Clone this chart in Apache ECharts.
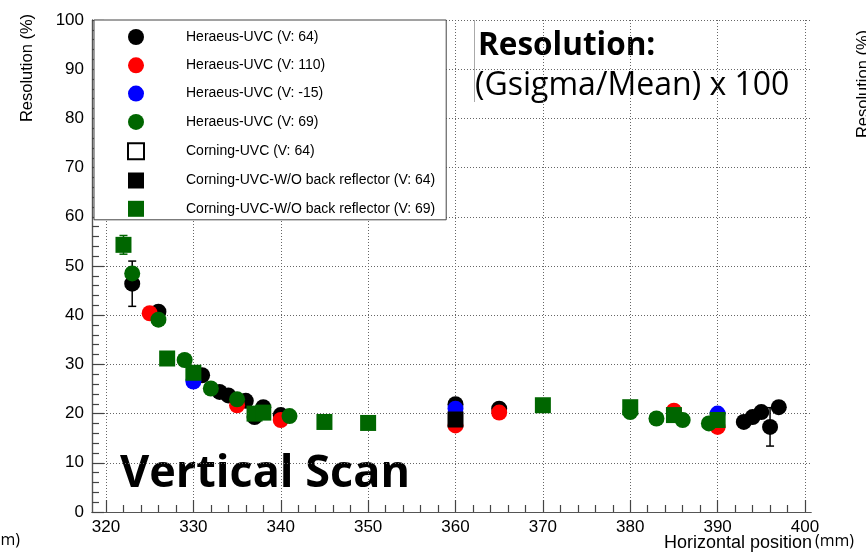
<!DOCTYPE html>
<html>
<head>
<meta charset="utf-8">
<script src="https://cdn.jsdelivr.net/npm/echarts@6/dist/echarts.min.js"></script>
<style>
html, body { margin: 0; padding: 0; background: #fff; }
#chart { width: 866px; height: 554px; }
</style>
</head>
<body>
<div id="chart"></div>
<script>
// points are [horizontal position (mm), resolution (%), error]
const heraeusV64 = [[323, 46.4, 4.6], [326, 40.7, 0], [331, 27.8, 0], [333, 24.4, 0], [334, 23.7, 0],
  [336, 22.6, 0], [337, 19.3, 0], [338, 21.3, 0], [340, 19.7, 0], [360, 21.9, 0], [365, 21.0, 0],
  [393, 18.3, 0], [394, 19.3, 0], [395, 20.3, 0], [396, 17.3, 3.9], [397, 21.3, 0]];
const heraeusV110 = [[325, 40.4, 0], [335, 21.7, 0], [340, 18.7, 0], [360, 17.6, 0], [365, 20.2, 0],
  [385, 20.6, 0], [390, 17.3, 0]];
const heraeusVm15 = [[330, 26.5, 0], [360, 21.0, 0], [390, 20.0, 0]];
const heraeusV69 = [[323, 48.5, 0], [326, 39.1, 0], [329, 30.9, 0], [332, 25.1, 0], [335, 22.9, 0],
  [341, 19.5, 0], [380, 20.3, 0], [383, 19.0, 0], [386, 18.7, 0], [389, 18.0, 0]];
const corningV64 = [];
const corningNoRefV64 = [[360, 18.8, 0]];
const corningNoRefV69 = [[322, 54.3, 1.9], [327, 31.2, 0], [330, 28.3, 0], [337, 20.0, 0], [338, 20.2, 0],
  [345, 18.3, 0], [350, 18.1, 0], [370, 21.7, 0], [380, 21.3, 0], [385, 19.7, 0], [390, 18.7, 0]];

const xMin = 320, xMax = 400, xStep = 10;
const yMin = 0, yMax = 100, yStep = 10;

const FONT = 'Liberation Sans, Arial, sans-serif';
const SLIDE_FONT = 'Open Sans, Noto Sans, sans-serif';
const GREEN = '#006600';

const chart = echarts.init(document.getElementById('chart'), null, { renderer: 'canvas' });

const groups = [
  { name: 'Heraeus-UVC (V: 64)', data: heraeusV64, symbol: 'circle', color: '#000000' },
  { name: 'Heraeus-UVC (V: 110)', data: heraeusV110, symbol: 'circle', color: '#ff0000' },
  { name: 'Heraeus-UVC (V: -15)', data: heraeusVm15, symbol: 'circle', color: '#0000ff' },
  { name: 'Heraeus-UVC (V: 69)', data: heraeusV69, symbol: 'circle', color: GREEN },
  { name: 'Corning-UVC (V: 64)', data: corningV64, symbol: 'rect', color: '#ffffff', border: '#000000' },
  { name: 'Corning-UVC-W/O back reflector (V: 64)', data: corningNoRefV64, symbol: 'rect', color: '#000000' },
  { name: 'Corning-UVC-W/O back reflector (V: 69)', data: corningNoRefV69, symbol: 'rect', color: GREEN }
];

function errorSeries(g) {
  return {
    type: 'custom', xAxisIndex: 2, yAxisIndex: 2, silent: true,
    data: g.data.filter(d => d[2] > 0).map(d => [d[0], d[1] - d[2], d[1] + d[2]]),
    encode: { x: 0, y: [1, 2] },
    renderItem(params, api) {
      const lo = api.coord([api.value(0), api.value(1)]);
      const hi = api.coord([api.value(0), api.value(2)]);
      const st = { stroke: g.color === '#ffffff' ? '#000' : g.color, lineWidth: 1.5 };
      return { type: 'group', children: [
        { type: 'line', shape: { x1: lo[0], y1: lo[1], x2: hi[0], y2: hi[1] }, style: st },
        { type: 'line', shape: { x1: lo[0] - 4, y1: lo[1], x2: lo[0] + 4, y2: lo[1] }, style: st },
        { type: 'line', shape: { x1: hi[0] - 4, y1: hi[1], x2: hi[0] + 4, y2: hi[1] }, style: st }
      ] };
    }
  };
}

const series = [];
groups.forEach(g => {
  series.push(errorSeries(g));
  series.push({
    name: g.name, type: 'scatter', xAxisIndex: 2, yAxisIndex: 2,
    symbol: g.symbol, symbolSize: 16,
    data: g.data.map(d => [d[0], d[1]]),
    itemStyle: { color: g.color, opacity: 1, borderColor: g.border || g.color, borderWidth: g.border ? 1.5 : 0 },
    emphasis: { disabled: true }
  });
});

const frameLine = { show: true, lineStyle: { color: '#555', width: 1.2 } };
const dotted = { show: true, lineStyle: { color: '#666', width: 1, type: [1, 2] } };

chart.setOption({
  animation: false,
  backgroundColor: '#fff',
  grid: [
    { left: 92, right: 55, top: 20, bottom: 42 },   // frame
    { left: 106, right: 61, top: 20, bottom: 42 }   // data
  ],
  xAxis: [
    { gridIndex: 0, type: 'value', min: 0, max: 1, position: 'bottom', axisLine: frameLine,
      axisTick: { show: false }, axisLabel: { show: false }, splitLine: { show: false } },
    { gridIndex: 0, type: 'value', min: 0, max: 1, position: 'top', axisLine: frameLine,
      axisTick: { show: false }, axisLabel: { show: false }, splitLine: { show: false } },
    { gridIndex: 1, type: 'value', min: xMin, max: xMax, interval: xStep, position: 'bottom',
      axisLine: { show: false },
      axisTick: { show: true, inside: true, length: 12, lineStyle: { color: '#444', width: 1.2 } },
      minorTick: { show: true, splitNumber: 5, length: 7, lineStyle: { color: '#444', width: 1.2 } },
      axisLabel: { color: '#000', fontFamily: FONT, fontSize: 17, margin: 7 },
      splitLine: dotted }
  ],
  yAxis: [
    { gridIndex: 0, type: 'value', min: yMin, max: yMax, interval: yStep, position: 'left',
      axisLine: frameLine,
      axisTick: { show: true, inside: true, length: 12, lineStyle: { color: '#444', width: 1.2 } },
      minorTick: { show: true, splitNumber: 5, length: 7, lineStyle: { color: '#444', width: 1.2 } },
      axisLabel: { color: '#000', fontFamily: FONT, fontSize: 17, margin: 8 },
      splitLine: dotted },
    { gridIndex: 0, type: 'value', min: yMin, max: yMax, position: 'right', axisLine: frameLine,
      axisTick: { show: false }, axisLabel: { show: false }, splitLine: { show: false } },
    { gridIndex: 1, type: 'value', min: yMin, max: yMax, show: false }
  ],
  legend: {
    orient: 'vertical', left: 94, top: 20,
    padding: [9, 11, 3, 33],
    itemWidth: 16, itemHeight: 16, itemGap: 12.3,
    backgroundColor: '#fff', borderColor: '#444', borderWidth: 1,
    selectedMode: false,
    data: groups.map(g => g.name),
    textStyle: { color: '#000', fontFamily: FONT, fontSize: 14, lineHeight: 16, padding: [0, 0, 0, 37] }
  },
  graphic: [
    { type: 'text', x: 27, y: 68, rotation: Math.PI / 2,
      style: { text: 'Resolution (%)', font: '16.5px ' + FONT, fill: '#000', align: 'center', verticalAlign: 'middle' } },
    { type: 'text', x: 812, y: 543,
      style: { text: 'Horizontal position', font: '18px ' + FONT, fill: '#000', align: 'right', verticalAlign: 'middle' } },
    { type: 'text', x: 815, y: 541,
      style: { text: '(mm)', font: '16px ' + SLIDE_FONT, fill: '#000', align: 'left', verticalAlign: 'middle' } },
    { type: 'text', x: 20, y: 540,
      style: { text: 'm)', font: '16px ' + SLIDE_FONT, fill: '#000', align: 'right', verticalAlign: 'middle' } },
    { type: 'text', x: 863, y: 84, rotation: Math.PI / 2,
      style: { text: 'Resolution (%)', font: '16.5px ' + FONT, fill: '#000', align: 'center', verticalAlign: 'middle' } },
    { type: 'line', shape: { x1: 474.5, y1: 20, x2: 474.5, y2: 102 }, style: { stroke: '#aaa', lineWidth: 1 } },
    { type: 'text', x: 478, y: 46,
      style: { text: 'Resolution:', font: 'bold 31.5px ' + SLIDE_FONT, fill: '#000', align: 'left', verticalAlign: 'middle' } },
    { type: 'text', x: 475, y: 86,
      style: { text: '(Gsigma/Mean) x 100', font: '32px ' + SLIDE_FONT, fill: '#000', align: 'left', verticalAlign: 'middle' } },
    { type: 'text', x: 120, y: 474,
      style: { text: 'Vertical Scan', font: 'bold 45px ' + SLIDE_FONT, fill: '#000', align: 'left', verticalAlign: 'middle' } }
  ],
  series
});
</script>
</body>
</html>
